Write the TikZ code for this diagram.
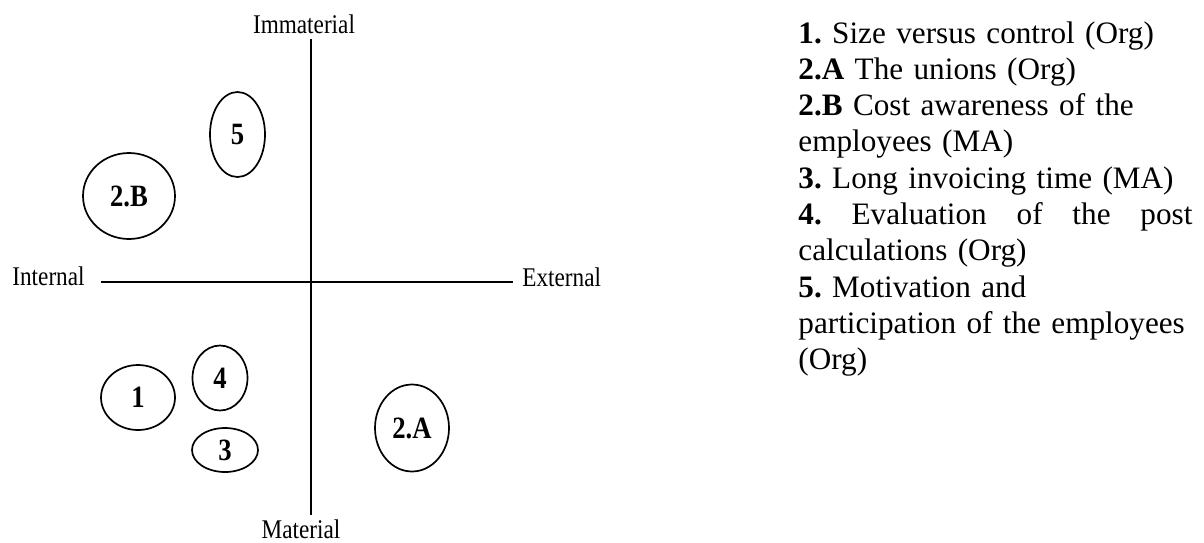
\documentclass[tikz,border=0pt]{standalone}
\usepackage{fontspec}
\setmainfont{Liberation Serif}
\newfontfamily\axisfont[FakeStretch=0.86]{Liberation Serif}
\usetikzlibrary{positioning,shapes.geometric}
\frenchspacing

\begin{document}
\begin{tikzpicture}[
    x=0.5pt, y=-0.5pt,
    axis/.style={line width=0.75pt, draw=black},
    axislabel/.style={font=\axisfont\fontsize{13.5pt}{16pt}\selectfont, inner sep=0pt},
    blob/.style={ellipse, draw=black, line width=0.85pt, inner sep=0pt, font=\axisfont\bfseries\fontsize{15.5pt}{18pt}\selectfont},
    legend/.style={font=\fontsize{15.6pt}{18.15pt}\selectfont, text width=197pt, align=left, inner sep=0pt}
]
    \useasboundingbox (0,0) rectangle (1204,542);

    % Axis ends
    \coordinate (axtop) at (311,39);
    \coordinate (axbot) at (311,515);
    \coordinate (axleft) at (101,282);
    \coordinate (axright) at (513,282);

    % Axis labels
    \node[axislabel, anchor=base] (immat) at (304,33) {Immaterial};
    \node[axislabel, anchor=base] (mat) at (301,538) {Material};
    \node[axislabel, anchor=base west] (intern) at (12,285) {Internal};
    \node[axislabel, anchor=base west] (extern) at (522,286) {External};

    % Axes
    \draw[axis] (axtop) -- (axbot);
    \draw[axis] (axleft) -- (axright);

    % Problem areas
    \node[blob, minimum width=27.5pt, minimum height=42.5pt] (five) at (237.5,134.5) {5};
    \node[blob, minimum width=46pt, minimum height=43pt] (twoB) at (129,196) {2.B};
    \node[blob, minimum width=37pt, minimum height=32.5pt] (one) at (138,397.5) {1};
    \node[blob, minimum width=27.5pt, minimum height=32.5pt] (four) at (220,378) {4};
    \node[blob, minimum width=33pt, minimum height=22pt] (three) at (225,450) {3};
    \node[blob, minimum width=37pt, minimum height=43.5pt] (twoA) at (412,428) {2.A};

    % Legend
    \node[legend, anchor=base west] (key) at (798,43) {%
        \hyphenpenalty=10000
        \textbf{1.} Size versus control (Org)\\
        \textbf{2.A} The unions (Org)\\
        \textbf{2.B} Cost awareness of the\\
        employees (MA)\\
        \textbf{3.} Long invoicing time (MA)\\
        \textbf{4.}\hfill Evaluation\hfill of\hfill the\hfill post\\
        calculations (Org)\\
        \textbf{5.} Motivation and\\
        \mbox{participation of the employees}\\
        (Org)};
\end{tikzpicture}
\end{document}
